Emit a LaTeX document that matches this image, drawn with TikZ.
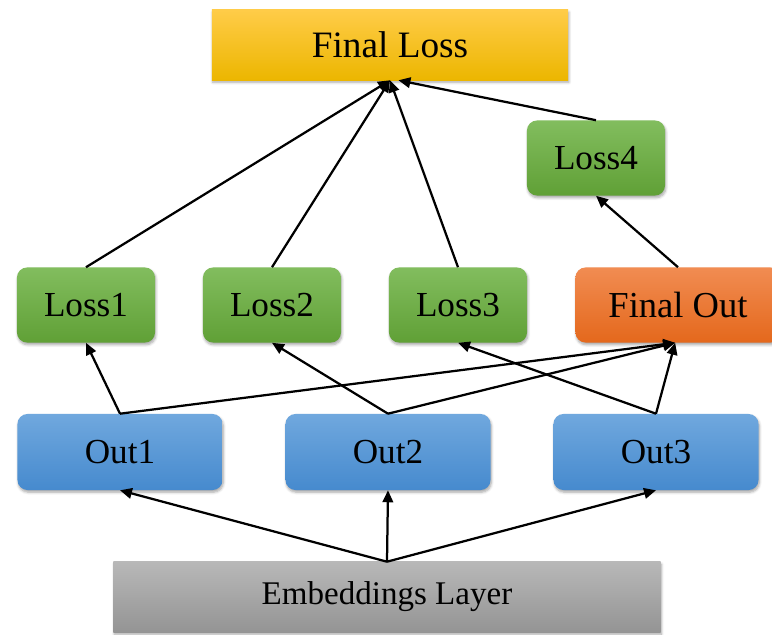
\documentclass[tikz,border=0pt]{standalone}
\usepackage{fontspec}
\setmainfont{Liberation Serif}
\usetikzlibrary{arrows.meta,shadows.blur}
\definecolor{goldT}{RGB}{255,204,72}
\definecolor{goldB}{RGB}{236,182,0}
\definecolor{grnT}{RGB}{130,189,94}
\definecolor{grnB}{RGB}{96,160,54}
\definecolor{bluT}{RGB}{112,168,222}
\definecolor{bluB}{RGB}{70,138,206}
\definecolor{orgT}{RGB}{241,140,82}
\definecolor{orgB}{RGB}{228,104,28}
\definecolor{gryT}{RGB}{184,184,184}
\definecolor{gryB}{RGB}{148,148,148}

\begin{document}
\begin{tikzpicture}[x=0.025cm, y=-0.025cm, every node/.style={font=\fontsize{25}{30}\selectfont}, box/.style={inner sep=0pt,minimum height=1.875cm,blur shadow={shadow xshift=0.6pt,shadow yshift=-1.6pt,shadow blur steps=5,shadow opacity=35}}, lossbox/.style={box,rounded corners=0.25cm,minimum width=3.45cm,top color=grnT,bottom color=grnB}, outbox/.style={box,rounded corners=0.25cm,minimum width=5.125cm,minimum height=1.9cm,top color=bluT,bottom color=bluB}, arr/.style={-{Triangle[length=8.5pt,width=7.5pt]},line width=1.6pt}]
\useasboundingbox (0,0) rectangle (772,635);
\node[box,minimum width=8.9cm,minimum height=1.75cm,top color=goldT,bottom color=goldB,font=\fontsize{26.5}{31}\selectfont] (floss) at (390,45) {Final Loss};
\node[lossbox] (loss4) at (596,158) {Loss4};
\node[lossbox] (loss1) at (86,305) {Loss1};
\node[lossbox] (loss2) at (272,305) {Loss2};
\node[lossbox] (loss3) at (458,305) {Loss3};
\node[box,rounded corners=0.25cm,minimum width=5.125cm,top color=orgT,bottom color=orgB,font=\fontsize{26}{31}\selectfont] (fout) at (678,305) {Final Out};
\node[outbox] (out1) at (120,452) {Out1};
\node[outbox] (out2) at (388,452) {Out2};
\node[outbox] (out3) at (656,452) {Out3};
\node[box,minimum width=13.675cm,minimum height=1.75cm,top color=gryT,bottom color=gryB,font=\fontsize{23.5}{28}\selectfont] (emb) at (387,597) {Embeddings Layer};
% embeddings to outputs
\foreach \o in {out1,out2,out3} \draw[arr] (emb.north) -- (\o.south);
% outputs to losses and final out
\draw[arr] (out1.north) -- (loss1.south); \draw[arr] (out2.north) -- (loss2.south); \draw[arr] (out3.north) -- (loss3.south);
\foreach \o in {out1,out2,out3} \draw[arr] (\o.north) -- ([xshift=-2pt]fout.south);
\draw[arr] (fout.north) -- (loss4.south);
% losses to final loss
\foreach \l in {loss1,loss2,loss3} \draw[arr] (\l.north) -- (floss.south);
\draw[arr] (loss4.north) -- ([xshift=6pt]floss.south);
\end{tikzpicture}
\end{document}
